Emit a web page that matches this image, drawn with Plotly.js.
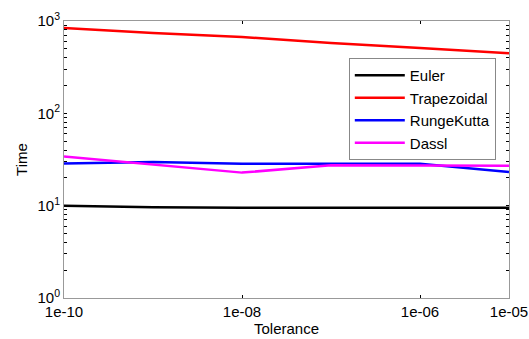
<!DOCTYPE html>
<html><head><meta charset="utf-8">
<script src="https://cdn.plot.ly/plotly-3.0.1.min.js"></script>
<style>html,body{margin:0;padding:0;background:#fff}#c{width:529px;height:339px}</style>
</head><body><div id="c"></div>
<script>
const tolerance = [1e-10, 1e-9, 1e-8, 1e-7, 1e-6, 1e-5];
const euler = [10, 9.6, 9.5, 9.5, 9.5, 9.5];
const trapezoidal = [840, 740, 670, 577, 510, 447];
const rungeKutta = [28.7, 29.7, 28.5, 28.5, 28.5, 23.2];
const dassl = [34, 28, 22.8, 27.4, 27.2, 27];
const xTickVals = [1e-10, 1e-8, 1e-6, 1e-5];
const xTickText = ['1e-10', '1e-08', '1e-06', '1e-05'];
const yDecades = [1, 10, 100, 1000];
const yDecadeText = ['10<sup>0</sup>', '10<sup>1</sup>', '10<sup>2</sup>', '10<sup>3</sup>'];

// y tick positions: decades plus 2..9 minor marks (labels only at decades)
const yTickVals = [], yTickText = [];
yDecades.forEach((d, i) => {
  yTickVals.push(d); yTickText.push(yDecadeText[i]);
  if (i < yDecades.length - 1) {
    for (let m = 2; m <= 9; m++) { yTickVals.push(d * m); yTickText.push(''); }
  }
});

const series = [
  {name: 'Euler', y: euler, color: '#000000'},
  {name: 'Trapezoidal', y: trapezoidal, color: '#ff0000'},
  {name: 'RungeKutta', y: rungeKutta, color: '#0000ff'},
  {name: 'Dassl', y: dassl, color: '#ff00ff'}
];
const traces = series.map(s => ({
  x: tolerance, y: s.y, name: s.name, type: 'scatter', mode: 'lines',
  line: {color: s.color, width: 2.5}
}));
const font = {family: 'Liberation Sans, Arial, sans-serif', size: 15, color: '#000'};
const layout = {
  width: 529, height: 339,
  margin: {l: 64, r: 20, t: 21, b: 41},
  paper_bgcolor: '#fff', plot_bgcolor: '#fff',
  font: font,
  showlegend: true,
  legend: {x: 0.64, y: 0.866, xanchor: 'left', yanchor: 'top',
    bgcolor: '#fff', bordercolor: '#888', borderwidth: 1,
    font: {family: font.family, size: 15, color: '#000'}, itemwidth: 50},
  xaxis: {type: 'log', range: [-10, -5], tickmode: 'array', tickvals: xTickVals, ticktext: xTickText,
    ticks: 'inside', ticklen: 3, tickcolor: '#000', showgrid: false, zeroline: false,
    showline: true, linecolor: '#999', linewidth: 1, mirror: 'ticks',
    tickfont: font,
    title: {text: 'Tolerance', font: font, standoff: 2}},
  yaxis: {type: 'log', range: [0, 3], tickmode: 'array', tickvals: yTickVals, ticktext: yTickText,
    ticks: 'inside', ticklen: 3, tickcolor: '#000', showgrid: false, zeroline: false,
    showline: true, linecolor: '#999', linewidth: 1, mirror: 'ticks',
    tickfont: font,
    title: {text: 'Time', font: font, standoff: 6}}
};
Plotly.newPlot('c', traces, layout, {displayModeBar: false, staticPlot: true});
</script></body></html>
